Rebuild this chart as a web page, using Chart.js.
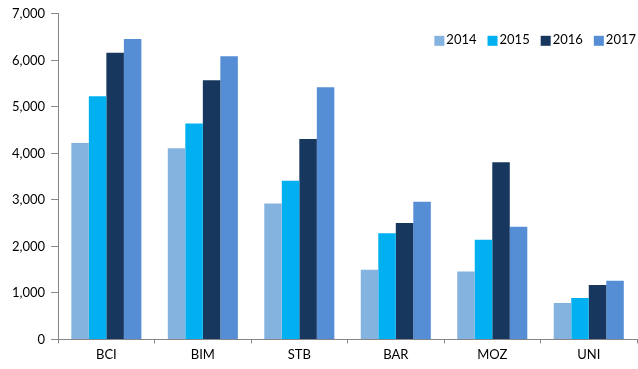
<!DOCTYPE html>
<html>
<head>
<meta charset="utf-8">
<script src="https://cdn.jsdelivr.net/npm/chart.js@4/dist/chart.umd.min.js"></script>
<style>
  html, body { margin: 0; padding: 0; background: #fff; }
  #wrap { width: 638px; height: 369px; }
</style>
</head>
<body>
<div id="wrap"><canvas id="chart-banks"></canvas></div>
<script>
let banks = ["BCI", "BIM", "STB", "BAR", "MOZ", "UNI"]
let years = ["2014", "2015", "2016", "2017"]

let vals2014 = [4220, 4110, 2920, 1500, 1460, 780]
let vals2015 = [5230, 4640, 3410, 2280, 2140, 890]
let vals2016 = [6160, 5570, 4310, 2500, 3810, 1170]
let vals2017 = [6460, 6090, 5420, 2960, 2420, 1260]

let yearColors = ["#84B3E0", "#00B0F0", "#17375E", "#558ED5"]
let series = [vals2014, vals2015, vals2016, vals2017]

Chart.defaults.font.family = "Lato"
Chart.defaults.font.size = 13
Chart.defaults.color = "#000"

let axisGray = "#868686"

// legend drawn inside the plot, top right, in one row
let insideLegend = {
    id: "insideLegend",
    afterDraw(chart) {
        let ctx = chart.ctx
        let area = chart.chartArea
        let box = 10
        let gap = 2
        let spacing = 11
        ctx.save()
        ctx.font = "13px Lato"
        ctx.textBaseline = "middle"
        let widths = chart.data.datasets.map(ds => box + gap + ctx.measureText(ds.label).width)
        let total = widths.reduce((a, b) => a + b, 0) + spacing * (widths.length - 1)
        let x = area.right - total - 1
        let y = area.top + 25
        chart.data.datasets.forEach((ds, i) => {
            ctx.fillStyle = ds.backgroundColor
            ctx.fillRect(x, y - 3, box, box)
            ctx.fillStyle = "#000"
            ctx.fillText(ds.label, x + box + gap, y + 1)
            x += widths[i] + spacing
        })
        ctx.restore()
    }
}

let barData = {
    labels: banks,
    datasets: years.map((yr, i) => ({
        label: yr,
        data: series[i],
        backgroundColor: yearColors[i],
        borderWidth: 0,
        categoryPercentage: 0.726,
        barPercentage: 1.0
    }))
}

let barChart = new Chart(
    document.getElementById("chart-banks").getContext("2d"),
    {
        type: "bar",
        data: barData,
        plugins: [insideLegend],
        options: {
            responsive: true,
            maintainAspectRatio: false,
            animation: false,
            layout: {
                padding: { top: 12, right: 1, bottom: 2, left: 6 }
            },
            plugins: {
                legend: { display: false },
                tooltip: { enabled: false }
            },
            scales: {
                x: {
                    grid: {
                        offset: true,
                        drawOnChartArea: false,
                        color: axisGray,
                        tickLength: 4
                    },
                    border: { color: axisGray, width: 1 },
                    ticks: { padding: 4 }
                },
                y: {
                    min: 0,
                    max: 7000,
                    ticks: {
                        stepSize: 1000,
                        padding: 6,
                        callback: v => v.toLocaleString("en-US")
                    },
                    grid: {
                        drawOnChartArea: false,
                        color: axisGray,
                        tickLength: 7
                    },
                    border: { color: axisGray, width: 1 }
                }
            }
        }
    }
)
</script>
</body>
</html>
